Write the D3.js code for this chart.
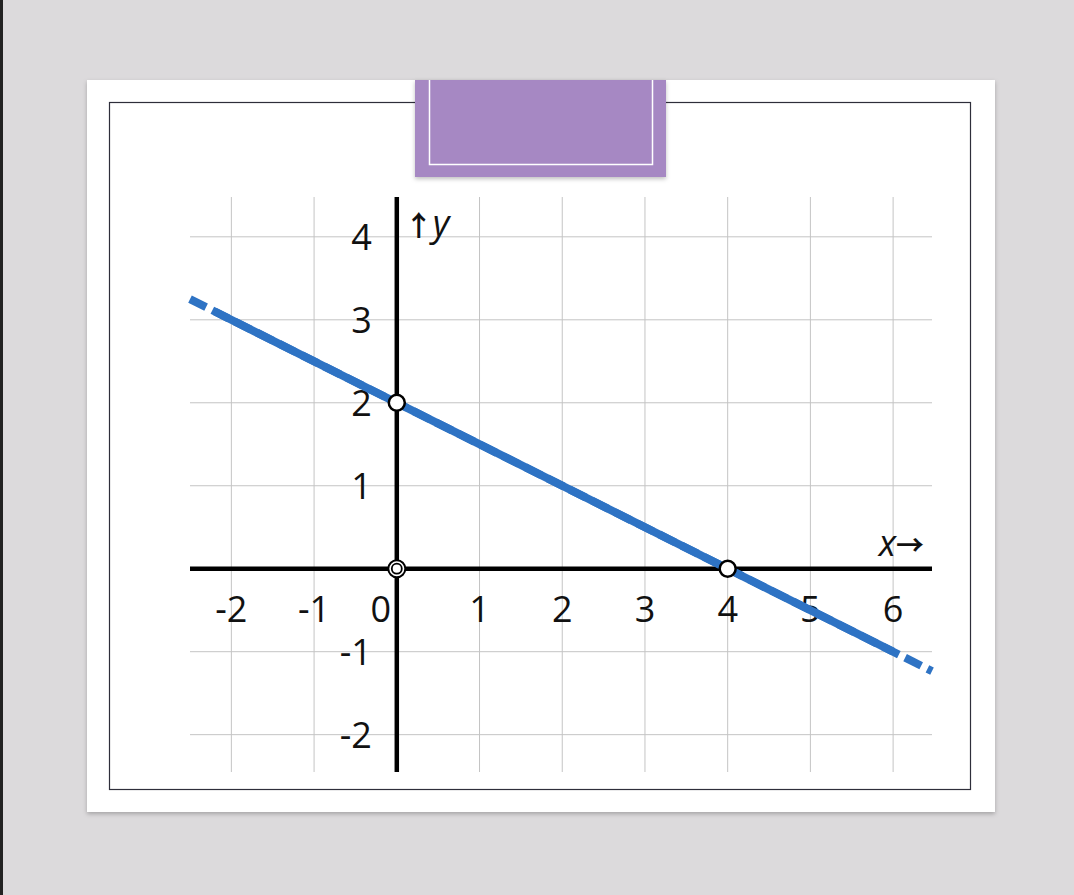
<!DOCTYPE html>
<html><head><meta charset="utf-8">
<script src="https://cdn.jsdelivr.net/npm/d3@7"></script>
<style>html,body{margin:0;padding:0;background:#dcdadc;overflow:hidden}</style>
</head><body>
<svg id="c" width="1074" height="895"></svg>
<script>
const xTicks = [-2,-1,0,1,2,3,4,5,6];
const yTicks = [-2,-1,1,2,3,4];
const xGrid = [-2,-1,1,2,3,4,5,6];
const yGrid = [-2,-1,1,2,3,4];
const xDomain = [-2.5, 6.47];
const yDomain = [-2.45, 4.48];
const lineSlope = -0.5, lineIntercept = 2;
const solidRange = [-2.2, 6.0];
const dashRange = [-2.5, 6.47];
const openPoints = [[0,2],[4,0]];
const originPoint = [[0,0]];

const svg = d3.select("#c");
const defs = svg.append("defs");
const f = defs.append("filter").attr("id","sh").attr("x","-10%").attr("y","-10%").attr("width","120%").attr("height","130%");
f.append("feDropShadow").attr("dx",0).attr("dy",2).attr("stdDeviation",2).attr("flood-color","#000").attr("flood-opacity",0.25);

svg.append("rect").attr("x",0).attr("y",0).attr("width",3).attr("height",895).attr("fill","#222");
svg.append("rect").attr("x",87).attr("y",80).attr("width",908).attr("height",732).attr("fill","#fff").attr("filter","url(#sh)");
svg.append("rect").attr("x",109.5).attr("y",102.5).attr("width",861).attr("height",687).attr("fill","none").attr("stroke","#2e2e3a").attr("stroke-width",1.2);
svg.append("rect").attr("x",415).attr("y",80).attr("width",251).attr("height",97).attr("fill","#a688c3").attr("filter","url(#sh)");
svg.append("path").attr("d","M429.5,80V164.5H652.5V80").attr("fill","none").attr("stroke","#fff").attr("stroke-width",1.5);

const x = d3.scaleLinear().domain(xDomain).range([190, 932]);
const y = d3.scaleLinear().domain(yDomain).range([772, 197]);

const g = svg.append("g");
g.selectAll(".vg").data(xGrid).join("line")
  .attr("x1",d=>x(d)).attr("x2",d=>x(d)).attr("y1",y.range()[1]).attr("y2",y.range()[0])
  .attr("stroke","#c4c4c4").attr("stroke-width",1);
g.selectAll(".hg").data(yGrid).join("line")
  .attr("y1",d=>y(d)).attr("y2",d=>y(d)).attr("x1",x.range()[0]).attr("x2",x.range()[1])
  .attr("stroke","#c4c4c4").attr("stroke-width",1);

// axes
g.append("line").attr("x1",x.range()[0]).attr("x2",x.range()[1]).attr("y1",y(0)).attr("y2",y(0)).attr("stroke","#000").attr("stroke-width",4.5);
g.append("line").attr("x1",x(0)).attr("x2",x(0)).attr("y1",y.range()[1]).attr("y2",y.range()[0]).attr("stroke","#000").attr("stroke-width",4.5);

const font = "'Open Sans','Liberation Sans',sans-serif";
g.selectAll(".xl").data(xTicks).join("text")
  .attr("x",d=>d===0 ? x(d)-16 : x(d)).attr("y",y(0)+53)
  .attr("text-anchor","middle").attr("font-family",font).attr("font-size",36).attr("fill","#111")
  .text(d=>String(d));
g.selectAll(".yl").data(yTicks).join("text")
  .attr("x",x(0)-25).attr("y",d=>y(d)+13)
  .attr("text-anchor","end").attr("font-family",font).attr("font-size",36).attr("fill","#111")
  .text(d=>String(d));

const fn = v => lineSlope*v + lineIntercept;
const ln = d3.line().x(d=>x(d)).y(d=>y(fn(d)));
g.append("path").attr("d",ln(dashRange)).attr("fill","none").attr("stroke","#2e73c4").attr("stroke-width",8).attr("stroke-dasharray","18 7");
g.append("path").attr("d",ln(solidRange)).attr("fill","none").attr("stroke","#2e73c4").attr("stroke-width",8);

g.selectAll(".op").data(openPoints).join("circle")
  .attr("cx",d=>x(d[0])).attr("cy",d=>y(d[1])).attr("r",8)
  .attr("fill","#fff").attr("stroke","#000").attr("stroke-width",2.5);
g.selectAll(".orp").data(originPoint).join("circle")
  .attr("cx",d=>x(d[0])).attr("cy",d=>y(d[1])).attr("r",8.5)
  .attr("fill","#fff").attr("stroke","#000").attr("stroke-width",2);
g.selectAll(".ori").data(originPoint).join("circle")
  .attr("cx",d=>x(d[0])).attr("cy",d=>y(d[1])).attr("r",5)
  .attr("fill","#fff").attr("stroke","#000").attr("stroke-width",1.8);

const yl = g.append("text").attr("x",x(0)+8).attr("y",y(4)-1).attr("font-family",font).attr("font-size",36).attr("fill","#111");
yl.append("tspan").attr("font-family","'Noto Sans CJK SC'").attr("font-size",28).attr("font-weight",700).text("↑");
yl.append("tspan").attr("font-style","italic").text("y");
const xl = g.append("text").attr("x",x.range()[1]-8).attr("y",y(0)-13).attr("text-anchor","end").attr("font-family",font).attr("font-size",36).attr("fill","#111");
xl.append("tspan").attr("font-style","italic").text("x");
xl.append("tspan").attr("font-family","'Noto Sans CJK SC'").attr("font-size",28).attr("font-weight",700).text("→");
</script>
</body></html>
